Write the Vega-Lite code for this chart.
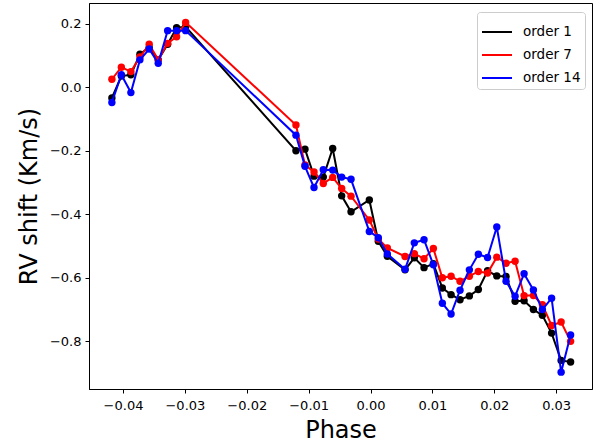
{
  "$schema": "https://vega.github.io/schema/vega-lite/v6.json",
  "width": 503,
  "height": 386,
  "autosize": "none",
  "padding": {"left": 89, "top": 3, "right": 2, "bottom": 55},
  "background": "white",
  "config": {
    "font": "DejaVu Sans",
    "view": {"stroke": "black", "strokeWidth": 1},
    "axis": {"grid": false, "domainColor": "black", "tickColor": "black", "labelColor": "black", "titleColor": "black", "labelFont": "DejaVu Sans", "titleFont": "DejaVu Sans", "labelFontSize": 13, "titleFontSize": 24, "titleFontWeight": "normal", "tickSize": 4, "labelPadding": 4}
  },
  "datasets": {
    "rv": [
      {"phase": -0.0418, "rv": -0.034, "order": "order 1"},
      {"phase": -0.04027, "rv": 0.035, "order": "order 1"},
      {"phase": -0.03873, "rv": 0.039, "order": "order 1"},
      {"phase": -0.03727, "rv": 0.104, "order": "order 1"},
      {"phase": -0.03577, "rv": 0.125, "order": "order 1"},
      {"phase": -0.03431, "rv": 0.086, "order": "order 1"},
      {"phase": -0.03279, "rv": 0.135, "order": "order 1"},
      {"phase": -0.03134, "rv": 0.187, "order": "order 1"},
      {"phase": -0.02988, "rv": 0.19, "order": "order 1"},
      {"phase": -0.01205, "rv": -0.2, "order": "order 1"},
      {"phase": -0.01059, "rv": -0.195, "order": "order 1"},
      {"phase": -0.00913, "rv": -0.28, "order": "order 1"},
      {"phase": -0.00763, "rv": -0.283, "order": "order 1"},
      {"phase": -0.00611, "rv": -0.193, "order": "order 1"},
      {"phase": -0.00466, "rv": -0.342, "order": "order 1"},
      {"phase": -0.00315, "rv": -0.392, "order": "order 1"},
      {"phase": -0.00019, "rv": -0.355, "order": "order 1"},
      {"phase": 0.00126, "rv": -0.485, "order": "order 1"},
      {"phase": 0.00272, "rv": -0.532, "order": "order 1"},
      {"phase": 0.00558, "rv": -0.575, "order": "order 1"},
      {"phase": 0.00708, "rv": -0.537, "order": "order 1"},
      {"phase": 0.00865, "rv": -0.568, "order": "order 1"},
      {"phase": 0.01016, "rv": -0.556, "order": "order 1"},
      {"phase": 0.01161, "rv": -0.632, "order": "order 1"},
      {"phase": 0.01302, "rv": -0.653, "order": "order 1"},
      {"phase": 0.01447, "rv": -0.669, "order": "order 1"},
      {"phase": 0.01598, "rv": -0.657, "order": "order 1"},
      {"phase": 0.01743, "rv": -0.637, "order": "order 1"},
      {"phase": 0.01892, "rv": -0.578, "order": "order 1"},
      {"phase": 0.02041, "rv": -0.594, "order": "order 1"},
      {"phase": 0.02191, "rv": -0.596, "order": "order 1"},
      {"phase": 0.02337, "rv": -0.674, "order": "order 1"},
      {"phase": 0.02482, "rv": -0.672, "order": "order 1"},
      {"phase": 0.02633, "rv": -0.7, "order": "order 1"},
      {"phase": 0.02778, "rv": -0.718, "order": "order 1"},
      {"phase": 0.02927, "rv": -0.774, "order": "order 1"},
      {"phase": 0.03081, "rv": -0.86, "order": "order 1"},
      {"phase": 0.03234, "rv": -0.865, "order": "order 1"},
      {"phase": -0.0418, "rv": 0.025, "order": "order 7"},
      {"phase": -0.04027, "rv": 0.063, "order": "order 7"},
      {"phase": -0.03873, "rv": 0.049, "order": "order 7"},
      {"phase": -0.03727, "rv": 0.095, "order": "order 7"},
      {"phase": -0.03577, "rv": 0.135, "order": "order 7"},
      {"phase": -0.03431, "rv": 0.086, "order": "order 7"},
      {"phase": -0.03279, "rv": 0.138, "order": "order 7"},
      {"phase": -0.03134, "rv": 0.159, "order": "order 7"},
      {"phase": -0.02988, "rv": 0.204, "order": "order 7"},
      {"phase": -0.01205, "rv": -0.119, "order": "order 7"},
      {"phase": -0.01059, "rv": -0.245, "order": "order 7"},
      {"phase": -0.00913, "rv": -0.267, "order": "order 7"},
      {"phase": -0.00763, "rv": -0.303, "order": "order 7"},
      {"phase": -0.00611, "rv": -0.284, "order": "order 7"},
      {"phase": -0.00466, "rv": -0.319, "order": "order 7"},
      {"phase": -0.00315, "rv": -0.343, "order": "order 7"},
      {"phase": -0.00019, "rv": -0.418, "order": "order 7"},
      {"phase": 0.00126, "rv": -0.478, "order": "order 7"},
      {"phase": 0.00272, "rv": -0.506, "order": "order 7"},
      {"phase": 0.00558, "rv": -0.533, "order": "order 7"},
      {"phase": 0.00708, "rv": -0.524, "order": "order 7"},
      {"phase": 0.00865, "rv": -0.54, "order": "order 7"},
      {"phase": 0.01016, "rv": -0.508, "order": "order 7"},
      {"phase": 0.01161, "rv": -0.6, "order": "order 7"},
      {"phase": 0.01302, "rv": -0.595, "order": "order 7"},
      {"phase": 0.01447, "rv": -0.611, "order": "order 7"},
      {"phase": 0.01598, "rv": -0.595, "order": "order 7"},
      {"phase": 0.01743, "rv": -0.58, "order": "order 7"},
      {"phase": 0.01892, "rv": -0.585, "order": "order 7"},
      {"phase": 0.02041, "rv": -0.535, "order": "order 7"},
      {"phase": 0.02191, "rv": -0.554, "order": "order 7"},
      {"phase": 0.02337, "rv": -0.548, "order": "order 7"},
      {"phase": 0.02482, "rv": -0.656, "order": "order 7"},
      {"phase": 0.02633, "rv": -0.656, "order": "order 7"},
      {"phase": 0.02778, "rv": -0.685, "order": "order 7"},
      {"phase": 0.02927, "rv": -0.75, "order": "order 7"},
      {"phase": 0.03081, "rv": -0.739, "order": "order 7"},
      {"phase": 0.03234, "rv": -0.8, "order": "order 7"},
      {"phase": -0.0418, "rv": -0.048, "order": "order 14"},
      {"phase": -0.04027, "rv": 0.039, "order": "order 14"},
      {"phase": -0.03873, "rv": -0.017, "order": "order 14"},
      {"phase": -0.03727, "rv": 0.086, "order": "order 14"},
      {"phase": -0.03577, "rv": 0.12, "order": "order 14"},
      {"phase": -0.03431, "rv": 0.075, "order": "order 14"},
      {"phase": -0.03279, "rv": 0.178, "order": "order 14"},
      {"phase": -0.03134, "rv": 0.178, "order": "order 14"},
      {"phase": -0.02988, "rv": 0.178, "order": "order 14"},
      {"phase": -0.01205, "rv": -0.151, "order": "order 14"},
      {"phase": -0.01059, "rv": -0.249, "order": "order 14"},
      {"phase": -0.00913, "rv": -0.316, "order": "order 14"},
      {"phase": -0.00763, "rv": -0.26, "order": "order 14"},
      {"phase": -0.00611, "rv": -0.261, "order": "order 14"},
      {"phase": -0.00466, "rv": -0.283, "order": "order 14"},
      {"phase": -0.00315, "rv": -0.29, "order": "order 14"},
      {"phase": -0.00019, "rv": -0.454, "order": "order 14"},
      {"phase": 0.00126, "rv": -0.474, "order": "order 14"},
      {"phase": 0.00272, "rv": -0.525, "order": "order 14"},
      {"phase": 0.00558, "rv": -0.573, "order": "order 14"},
      {"phase": 0.00708, "rv": -0.49, "order": "order 14"},
      {"phase": 0.00865, "rv": -0.48, "order": "order 14"},
      {"phase": 0.01016, "rv": -0.559, "order": "order 14"},
      {"phase": 0.01161, "rv": -0.68, "order": "order 14"},
      {"phase": 0.01302, "rv": -0.714, "order": "order 14"},
      {"phase": 0.01447, "rv": -0.639, "order": "order 14"},
      {"phase": 0.01598, "rv": -0.575, "order": "order 14"},
      {"phase": 0.01743, "rv": -0.526, "order": "order 14"},
      {"phase": 0.01892, "rv": -0.536, "order": "order 14"},
      {"phase": 0.02041, "rv": -0.44, "order": "order 14"},
      {"phase": 0.02191, "rv": -0.611, "order": "order 14"},
      {"phase": 0.02337, "rv": -0.658, "order": "order 14"},
      {"phase": 0.02482, "rv": -0.587, "order": "order 14"},
      {"phase": 0.02633, "rv": -0.638, "order": "order 14"},
      {"phase": 0.02778, "rv": -0.7, "order": "order 14"},
      {"phase": 0.02927, "rv": -0.664, "order": "order 14"},
      {"phase": 0.03081, "rv": -0.897, "order": "order 14"},
      {"phase": 0.03234, "rv": -0.78, "order": "order 14"}
    ]
  },
  "data": {"name": "rv"},
  "encoding": {
    "x": {"field": "phase", "type": "quantitative", "title": "Phase",
      "scale": {"domain": [-0.0455, 0.0358], "nice": false, "zero": false},
      "axis": {"values": [-0.04, -0.03, -0.02, -0.01, 0, 0.01, 0.02, 0.03], "format": ".2f", "labelPadding": 6, "titlePadding": 6}},
    "y": {"field": "rv", "type": "quantitative", "title": "RV shift (Km/s)",
      "scale": {"domain": [-0.95, 0.265], "nice": false, "zero": false},
      "axis": {"values": [-0.8, -0.6, -0.4, -0.2, 0, 0.2], "format": ".1f", "titlePadding": 8}},
    "color": {"field": "order", "type": "nominal",
      "scale": {"domain": ["order 1", "order 7", "order 14"], "range": ["#000000", "#ff0000", "#0000ff"]},
      "legend": {"title": null, "orient": "none", "legendX": 388, "legendY": 9, "symbolType": "stroke", "symbolSize": 900, "symbolStrokeWidth": 2, "labelFontSize": 13.5, "labelFont": "DejaVu Sans", "labelColor": "black", "strokeColor": "#cccccc", "fillColor": "white", "cornerRadius": 3, "padding": 4, "rowPadding": -1, "labelOffset": 10}
    }
  },
  "layer": [
    {"transform": [{"filter": "datum.order === 'order 1'"}], "mark": {"type": "line", "strokeWidth": 2, "point": {"filled": true, "size": 55, "opacity": 1}}},
    {"transform": [{"filter": "datum.order === 'order 7'"}], "mark": {"type": "line", "strokeWidth": 2, "point": {"filled": true, "size": 55, "opacity": 1}}},
    {"transform": [{"filter": "datum.order === 'order 14'"}], "mark": {"type": "line", "strokeWidth": 2, "point": {"filled": true, "size": 55, "opacity": 1}}}
  ]
}
